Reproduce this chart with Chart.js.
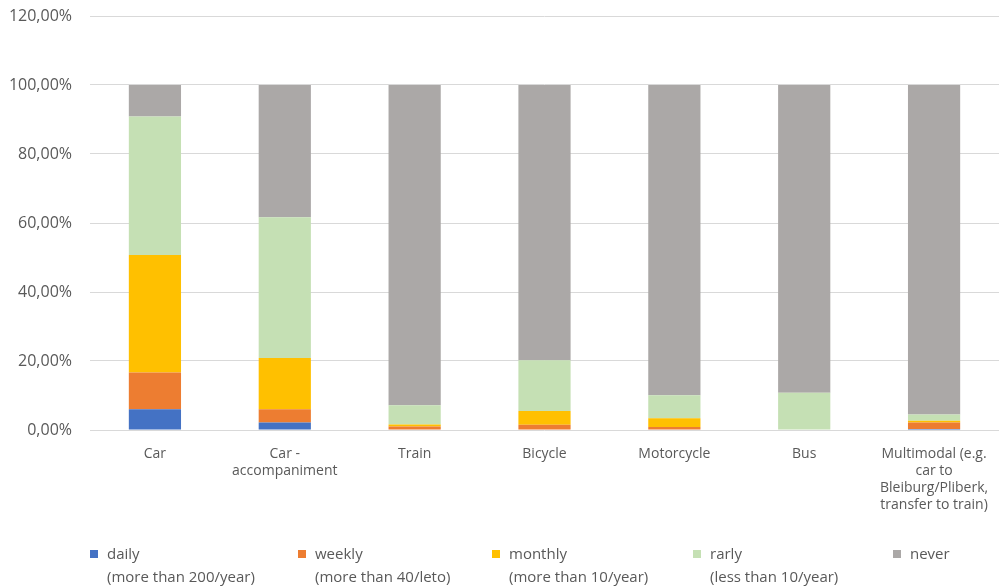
<!DOCTYPE html>
<html>
<head>
<meta charset="utf-8">
<script src="https://cdn.jsdelivr.net/npm/chart.js@4/dist/chart.umd.min.js"></script>
<style>
html,body{margin:0;padding:0;background:#fff;}
#wrap{position:relative;width:999px;height:587px;}
#legend{position:absolute;left:0;top:542px;width:999px;height:45px;font-family:'Open Sans','DejaVu Sans',sans-serif;font-size:15px;color:#595959;}
.li{position:absolute;top:0;line-height:23px;white-space:nowrap;}
.li i{position:absolute;left:0;top:8px;width:8px;height:8px;}
.li span{display:block;padding-left:17px;}
</style>
</head>
<body>
<div id="wrap"><canvas id="c"></canvas><div id="legend"></div></div>
<script>
const categories = ["Car", ["Car -", "accompaniment"], "Train", "Bicycle", "Motorcycle", "Bus", ["Multimodal (e.g.", "car to", "Bleiburg/Pliberk,", "transfer to train)"]];
const daily   = [0.060, 0.022, 0.000, 0.000, 0.000, 0.000, 0.003];
const weekly  = [0.107, 0.038, 0.010, 0.015, 0.009, 0.000, 0.019];
const monthly = [0.340, 0.149, 0.006, 0.040, 0.025, 0.000, 0.005];
const rarly   = [0.402, 0.408, 0.056, 0.147, 0.067, 0.108, 0.018];
const never   = [0.091, 0.383, 0.928, 0.798, 0.899, 0.892, 0.955];
const seriesLabels = [["daily", "(more than 200/year)"], ["weekly", "(more than 40/leto)"], ["monthly", "(more than 10/year)"], ["rarly", "(less than 10/year)"], ["never"]];
const yTicks = [0, 0.2, 0.4, 0.6, 0.8, 1.0, 1.2];

const colors = ["#4472C4", "#ED7D31", "#FFC000", "#C5E0B4", "#ABA8A7"];
const legendX = [90, 298, 492, 693, 893];
const values = [daily, weekly, monthly, rarly, never];
const font = "'Open Sans', 'DejaVu Sans', sans-serif";
const txt = "#595959";

const chart = new Chart(document.getElementById('c'), {
  type: 'bar',
  data: {
    labels: categories,
    datasets: values.map((v, i) => ({
      label: seriesLabels[i],
      data: v,
      backgroundColor: colors[i],
      borderWidth: 0,
      barPercentage: 0.6,
      categoryPercentage: 0.67
    }))
  },
  options: {
    responsive: true,
    maintainAspectRatio: false,
    animation: false,
    devicePixelRatio: 1,
    layout: { padding: { left: 0, right: 0, top: 16, bottom: 57 } },
    plugins: {
      tooltip: { enabled: false },
      legend: { display: false }
    },
    scales: {
      x: {
        stacked: true,
        grid: { display: false },
        border: { display: false },
        ticks: { color: txt, font: { family: font, size: 14 }, maxRotation: 0, autoSkip: false, padding: 8 },
        afterFit(s) { s.height = 100; }
      },
      y: {
        stacked: true,
        min: 0,
        max: 1.2,
        afterBuildTicks(s) { s.ticks = yTicks.map(v => ({ value: v })); },
        grid: { color: "#D9D9D9", lineWidth: 1, drawTicks: false },
        border: { display: false },
        ticks: {
          color: txt,
          font: { family: font, size: 16 },
          padding: 18,
          callback: v => (v * 100).toFixed(2).replace('.', ',') + '%'
        },
        afterFit(s) { s.width = 90; s.paddingTop = 0; s.paddingBottom = 0; }
      }
    }
  }
});

const leg = document.getElementById('legend');
chart.data.datasets.forEach((ds, i) => {
  const d = document.createElement('div');
  d.className = 'li';
  d.style.left = legendX[i] + 'px';
  const box = document.createElement('i');
  box.style.background = ds.backgroundColor;
  d.appendChild(box);
  ds.label.forEach(t => { const s = document.createElement('span'); s.textContent = t; d.appendChild(s); });
  leg.appendChild(d);
});
</script>
</body>
</html>
